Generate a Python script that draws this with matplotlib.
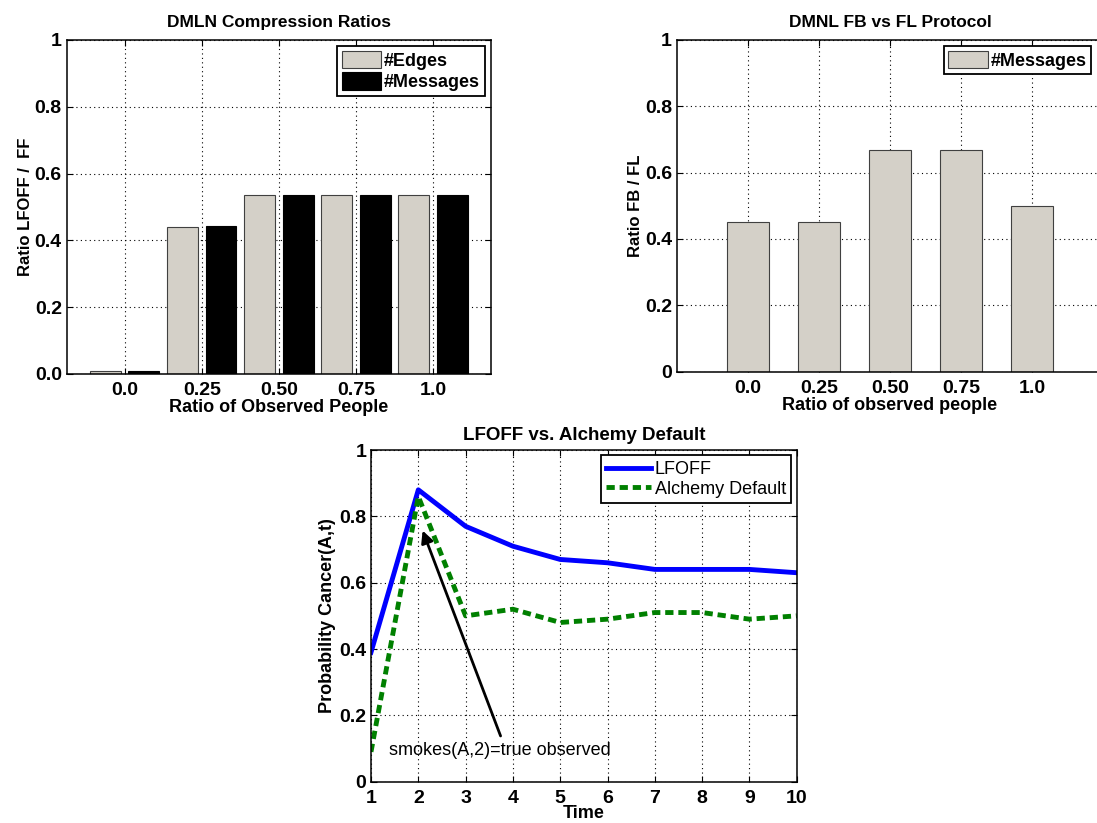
import numpy as np
import matplotlib.pyplot as plt

plt.rcParams['font.family'] = ['Liberation Sans', 'DejaVu Sans']
plt.rcParams['font.weight'] = 'bold'
plt.rcParams['axes.labelweight'] = 'bold'
plt.rcParams['axes.titleweight'] = 'bold'

# data
ratio_labels = ["0.0", "0.25", "0.50", "0.75", "1.0"]
edges_ratio = [0.008, 0.44, 0.535, 0.535, 0.535]
messages_ratio = [0.008, 0.442, 0.535, 0.535, 0.535]
fb_fl_messages = [0.452, 0.452, 0.667, 0.667, 0.5]

time_steps = [1, 2, 3, 4, 5, 6, 7, 8, 9, 10]
lfoff_prob = [0.39, 0.88, 0.77, 0.71, 0.67, 0.66, 0.64, 0.64, 0.64, 0.63]
alchemy_prob = [0.09, 0.86, 0.50, 0.52, 0.48, 0.49, 0.51, 0.51, 0.49, 0.50]

GRAY = "#d4d0c8"


def matlab_style(ax):
    ax.grid(True, color="black", linestyle=(0, (1, 3)), linewidth=0.8)
    ax.set_axisbelow(True)
    ax.tick_params(direction="in", top=True, right=True, labelsize=14, length=4, width=0.8)
    ax.tick_params(axis="x", pad=6)
    for s in ax.spines.values():
        s.set_linewidth(1.1)


fig = plt.figure(figsize=(10.97, 8.23), dpi=100)

# top-left: grouped bars
ax1 = fig.add_axes([0.0608, 0.5456, 0.3868, 0.4058])
pos = np.arange(1, len(ratio_labels) + 1)
ax1.bar(pos - 0.25, edges_ratio, width=0.4, color=GRAY, edgecolor="#404040", linewidth=0.8, label="#Edges")
ax1.bar(pos + 0.25, messages_ratio, width=0.4, color="black", edgecolor="black", linewidth=0.8, label="#Messages")
ax1.set_xlim(0.25, 5.75)
ax1.set_ylim(0, 1)
ax1.set_xticks(pos)
ax1.set_xticklabels(ratio_labels)
ax1.set_yticks([0, 0.2, 0.4, 0.6, 0.8, 1.0])
ax1.set_yticklabels(["0.0", "0.2", "0.4", "0.6", "0.8", "1"])
matlab_style(ax1)
ax1.set_title("DMLN Compression Ratios", fontsize=12.5, pad=9)
ax1.set_xlabel("Ratio of Observed People", fontsize=13, labelpad=0)
ax1.set_ylabel("Ratio LFOFF /  FF", fontsize=12, labelpad=1.5)
leg = ax1.legend(loc="upper right", fontsize=13, fancybox=False, edgecolor="black",
                 borderaxespad=0.35, handlelength=2.2, handleheight=1.1, handletextpad=0.15,
                 labelspacing=0.15, borderpad=0.25, framealpha=1)
leg.get_frame().set_linewidth(1.3)

# top-right: single bars
ax2 = fig.add_axes([0.6171, 0.5484, 0.3883, 0.403])
ax2.bar(pos, fb_fl_messages, width=0.6, color=GRAY, edgecolor="#404040", linewidth=0.8, label="#Messages")
ax2.set_xlim(0, 6)
ax2.set_ylim(0, 1)
ax2.set_xticks(pos)
ax2.set_xticklabels(ratio_labels)
ax2.set_yticks([0, 0.2, 0.4, 0.6, 0.8, 1.0])
ax2.set_yticklabels(["0", "0.2", "0.4", "0.6", "0.8", "1"])
matlab_style(ax2)
ax2.set_title("DMNL FB vs FL Protocol", fontsize=12.5, pad=9)
ax2.set_xlabel("Ratio of observed people", fontsize=13, labelpad=0)
ax2.set_ylabel("Ratio FB / FL", fontsize=12, labelpad=1.5)
leg2 = ax2.legend(loc="upper right", bbox_to_anchor=(0.987, 1.0), fontsize=13, fancybox=False,
                  edgecolor="black", borderaxespad=0.35, handlelength=2.2, handleheight=1.1,
                  handletextpad=0.15, borderpad=0.25, framealpha=1)
leg2.get_frame().set_linewidth(1.3)

# bottom: lines
ax3 = fig.add_axes([0.3382, 0.0502, 0.3881, 0.403])
ax3.plot(time_steps, lfoff_prob, color="blue", linewidth=3.5, label="LFOFF")
ax3.plot(time_steps, alchemy_prob, color="green", linewidth=3.5, linestyle=(0, (1.7, 1.0)), label="Alchemy Default")
ax3.set_xlim(1, 10)
ax3.set_ylim(0, 1)
ax3.set_xticks(time_steps)
ax3.set_yticks([0, 0.2, 0.4, 0.6, 0.8, 1.0])
ax3.set_yticklabels(["0", "0.2", "0.4", "0.6", "0.8", "1"])
matlab_style(ax3)
ax3.set_title("LFOFF vs. Alchemy Default", fontsize=13.5, pad=7)
ax3.set_xlabel("Time", fontsize=13, labelpad=-1.5)
ax3.set_ylabel("Probability Cancer(A,t)", fontsize=13, labelpad=2)
ax3.annotate("", xy=(2.07, 0.765), xytext=(3.76, 0.13),
             arrowprops=dict(arrowstyle="-|>", color="black", linewidth=2, mutation_scale=18))
ax3.text(1.38, 0.095, "smokes(A,2)=true observed", fontsize=13, fontweight="normal", va="center")
leg3 = ax3.legend(loc="upper right", fontsize=13, fancybox=False, edgecolor="black",
                  borderaxespad=0.3, handlelength=2.5, handletextpad=0.2, labelspacing=0.15,
                  borderpad=0.3, framealpha=1)
leg3.get_frame().set_linewidth(1.3)
for t in leg3.get_texts():
    t.set_fontweight("normal")

fig.savefig("out.png", dpi=100)
